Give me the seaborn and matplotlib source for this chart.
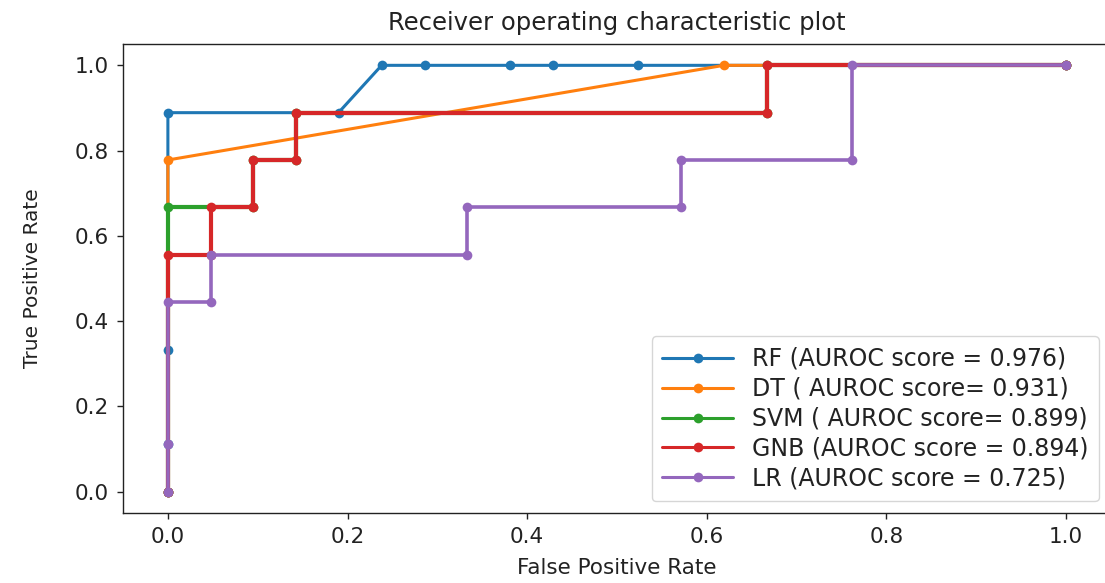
import matplotlib
matplotlib.use("Agg")
import matplotlib.pyplot as plt
import seaborn as sns

# ROC curve points (false positive rate, true positive rate) per classifier
rf_fpr = [0.0, 0.0, 0.0, 0.0, 0.190, 0.238, 0.286, 0.381, 0.429, 0.524, 1.0]
rf_tpr = [0.0, 0.111, 0.333, 0.889, 0.889, 1.0, 1.0, 1.0, 1.0, 1.0, 1.0]

dt_fpr = [0.0, 0.0, 0.619, 1.0]
dt_tpr = [0.0, 0.778, 1.0, 1.0]

svm_fpr = [0.0, 0.0, 0.095, 0.095, 0.143, 0.143, 0.667, 0.667, 1.0]
svm_tpr = [0.0, 0.667, 0.667, 0.778, 0.778, 0.889, 0.889, 1.0, 1.0]

gnb_fpr = [0.0, 0.0, 0.048, 0.048, 0.095, 0.095, 0.143, 0.143, 0.667, 0.667, 1.0]
gnb_tpr = [0.0, 0.556, 0.556, 0.667, 0.667, 0.778, 0.778, 0.889, 0.889, 1.0, 1.0]

lr_fpr = [0.0, 0.0, 0.0, 0.048, 0.048, 0.333, 0.333, 0.571, 0.571, 0.762, 0.762, 1.0]
lr_tpr = [0.0, 0.111, 0.444, 0.444, 0.556, 0.556, 0.667, 0.667, 0.778, 0.778, 1.0, 1.0]

labels = [
    "RF (AUROC score = 0.976)",
    "DT ( AUROC score= 0.931)",
    "SVM ( AUROC score= 0.899)",
    "GNB (AUROC score = 0.894)",
    "LR (AUROC score = 0.725)",
]
ticks = [0.0, 0.2, 0.4, 0.6, 0.8, 1.0]

sns.set_theme(style="ticks")
plt.rcParams["font.family"] = ["DejaVu Sans"]
plt.rcParams["axes.linewidth"] = 1.0

colors = sns.color_palette("tab10", 5)
curves = [(rf_fpr, rf_tpr), (dt_fpr, dt_tpr), (svm_fpr, svm_tpr),
          (gnb_fpr, gnb_tpr), (lr_fpr, lr_tpr)]
widths = [2.2, 2.2, 3.0, 3.0, 2.6]

fig = plt.figure(figsize=(11.05, 5.83), dpi=100)
ax = fig.add_axes([0.1113, 0.120, 0.894, 0.8045])

for (fx, ty), lab, col, lw in zip(curves, labels, colors, widths):
    sns.lineplot(x=fx, y=ty, ax=ax, color=col, label=lab, sort=False,
                 estimator=None, marker="o", markersize=7,
                 markeredgewidth=0, linewidth=lw)

ax.set_xlim(-0.05, 1.05)
ax.set_ylim(-0.05, 1.05)
ax.set_xticks(ticks)
ax.set_yticks(ticks)
ax.set_xticklabels([f"{t:.1f}" for t in ticks])
ax.set_yticklabels([f"{t:.1f}" for t in ticks])
ax.tick_params(labelsize=15.5, length=4, width=1, colors="#222222", pad=6)
for s in ax.spines.values():
    s.set_visible(True)
    s.set_color("#222222")

ax.set_title("Receiver operating characteristic plot", fontsize=17.5, pad=10, color="#222222")
ax.set_xlabel("False Positive Rate", fontsize=15.5, labelpad=8, color="#222222")
ax.set_ylabel("True Positive Rate", fontsize=14.5, labelpad=24, color="#222222")

leg = ax.legend(loc="lower right", fontsize=17, frameon=True,
                borderaxespad=0.5, handlelength=3.0, labelspacing=0.25,
                borderpad=0.45)
leg.get_frame().set_edgecolor("#cccccc")
for t in leg.get_texts():
    t.set_color("#222222")
for h in leg.get_lines():
    h.set_linewidth(2.2)

fig.savefig("out.png", dpi=100)
